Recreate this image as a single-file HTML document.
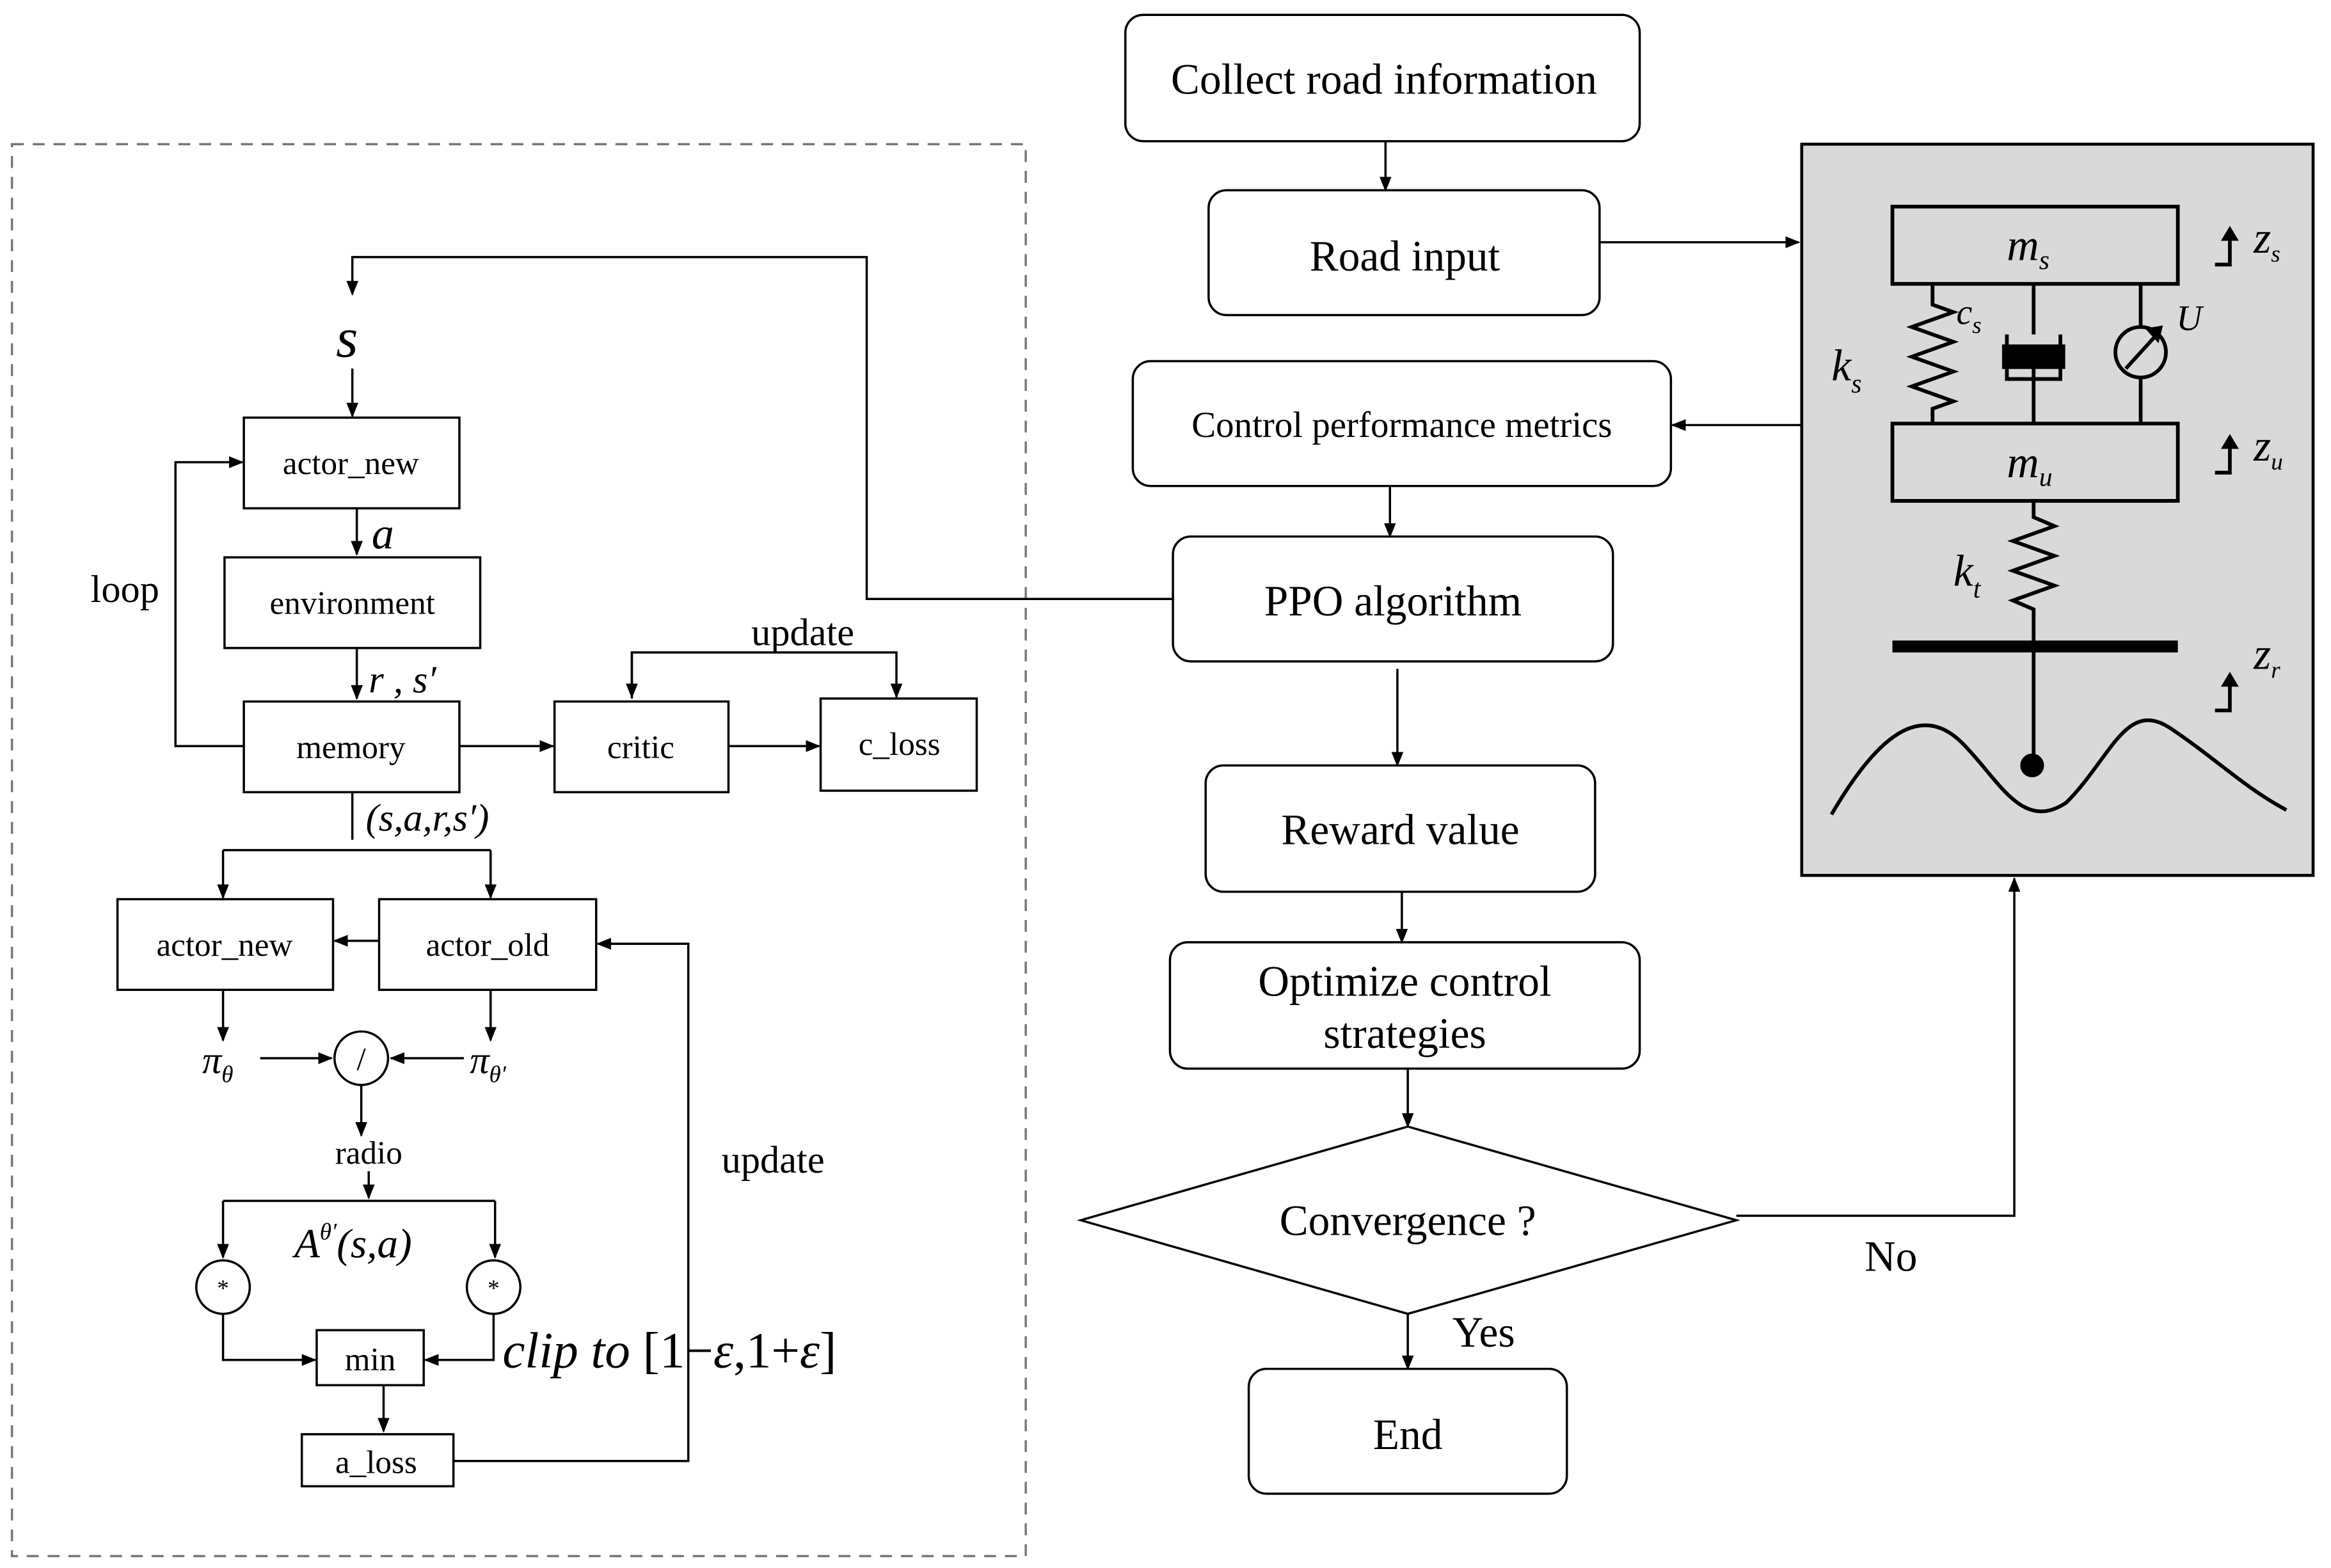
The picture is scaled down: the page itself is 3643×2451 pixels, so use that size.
<!DOCTYPE html>
<html><head><meta charset="utf-8"><style>
html,body{margin:0;padding:0;background:#fff}
svg{display:block}
text{font-family:"Liberation Serif",serif;fill:#000}
</style></head><body>
<svg width="3643" height="2451" viewBox="0 0 1568 1055" xmlns="http://www.w3.org/2000/svg">
<defs>
<marker id="ar" markerWidth="10" markerHeight="10" refX="9" refY="5" orient="auto" markerUnits="userSpaceOnUse">
<path d="M0,1 L10,5 L0,9 Z" fill="#000"/></marker>
</defs>
<rect x="0" y="0" width="1568" height="1055" fill="#fff"/>
<g fill="none" stroke="#000" stroke-width="1.5">
<rect x="8" y="97" width="682" height="950" stroke="#777" stroke-dasharray="8,6"/>
<rect x="757" y="10" width="346" height="85" rx="12"/>
<rect x="813" y="128" width="263" height="84" rx="12"/>
<rect x="762" y="243" width="362" height="84" rx="12"/>
<rect x="789" y="361" width="296" height="84" rx="12"/>
<rect x="811" y="515" width="262" height="85" rx="12"/>
<rect x="787" y="634" width="316" height="85" rx="12"/>
<path d="M727,821 L947,758 L1168,821 L947,884 Z"/>
<rect x="840" y="921" width="214" height="84" rx="12"/>
<path d="M932,95 V128" marker-end="url(#ar)"/>
<path d="M935,327 V361" marker-end="url(#ar)"/>
<path d="M940,450 V515" marker-end="url(#ar)"/>
<path d="M943,600 V634" marker-end="url(#ar)"/>
<path d="M947,719 V758" marker-end="url(#ar)"/>
<path d="M947,884 V921" marker-end="url(#ar)"/>
<path d="M1076,163 H1210" marker-end="url(#ar)"/>
<path d="M1212,286 H1125" marker-end="url(#ar)"/>
<path d="M1168,818 H1355 V591" marker-end="url(#ar)"/>
<path d="M789,403 H583 V173 H237 V198" marker-end="url(#ar)"/>
<path d="M237,248 V280" marker-end="url(#ar)"/>
<rect x="164" y="281" width="145" height="61"/>
<path d="M240,342 V373" marker-end="url(#ar)"/>
<rect x="151" y="375" width="172" height="61"/>
<path d="M240,436 V470" marker-end="url(#ar)"/>
<rect x="164" y="472" width="145" height="61"/>
<path d="M164,502 H118 V311 H163" marker-end="url(#ar)"/>
<path d="M309,502 H372" marker-end="url(#ar)"/>
<rect x="373" y="472" width="117" height="61"/>
<path d="M490,502 H551" marker-end="url(#ar)"/>
<rect x="552" y="470" width="105" height="62"/>
<path d="M425,470 V439 H603 V469" marker-end="url(#ar)"/>
<path d="M425,439 V469" marker-end="url(#ar)"/>
<path d="M237,533 V565"/>
<path d="M150,572 H330"/>
<path d="M150,572 V604" marker-end="url(#ar)"/>
<path d="M330,572 V604" marker-end="url(#ar)"/>
<rect x="79" y="605" width="145" height="61"/>
<rect x="255" y="605" width="146" height="61"/>
<path d="M255,633 H225" marker-end="url(#ar)"/>
<path d="M150,666 V700" marker-end="url(#ar)"/>
<path d="M330,666 V700" marker-end="url(#ar)"/>
<path d="M175,712 H223" marker-end="url(#ar)"/>
<path d="M312,712 H263" marker-end="url(#ar)"/>
<circle cx="243" cy="712" r="18"/>
<path d="M243,730 V764" marker-end="url(#ar)"/>
<path d="M248,788 V806" marker-end="url(#ar)"/>
<path d="M150,808 H333"/>
<path d="M150,808 V846" marker-end="url(#ar)"/>
<path d="M333,808 V846" marker-end="url(#ar)"/>
<circle cx="150" cy="866" r="18"/>
<circle cx="332" cy="866" r="18"/>
<rect x="213" y="895" width="72" height="37"/>
<path d="M150,884 V915 H212" marker-end="url(#ar)"/>
<path d="M332,884 V915 H286" marker-end="url(#ar)"/>
<path d="M258,932 V963" marker-end="url(#ar)"/>
<rect x="203" y="965" width="102" height="35"/>
<path d="M305,983 H463 V635 H402" marker-end="url(#ar)"/>
</g>
<rect x="1212" y="97" width="344" height="492" fill="#d9d9d9" stroke="#000" stroke-width="2"/>
<g stroke="#000" stroke-width="2.5" fill="none">
<rect x="1273" y="139" width="192" height="52" fill="#d9d9d9"/>
<rect x="1273" y="285" width="192" height="52" fill="#d9d9d9"/>
<path d="M1300,191 V205 L1314,210 L1286,220 L1314,230 L1286,240 L1314,250 L1286,260 L1314,270 L1300,275 V285"/>
<path d="M1368,191 V225 M1350,225 V255 H1386 V225 M1368,245 V285"/>
<rect x="1348" y="233" width="40" height="14" fill="#000"/>
<path d="M1440,191 V220 M1440,254 V285"/>
<circle cx="1440" cy="237" r="17"/>
<path d="M1430,248 L1450,226"/>
<path d="M1368,337 V348 L1382,354 L1354,364 L1382,374 L1354,384 L1382,394 L1354,404 L1368,410 V435"/>
<path d="M1273,435 H1465" stroke-width="8"/>
<path d="M1368,435 V515"/>
<path d="M1232,548 C1260,500 1290,470 1320,500 C1345,525 1360,560 1390,540 C1420,510 1430,470 1460,490 C1490,510 1510,530 1538,545"/>
<path d="M1490,178 H1500 V160 M1490,318 H1500 V300 M1490,478 H1500 V460"/>
</g>
<g fill="#000">
<path d="M1443,221 L1455,219 L1452,231 Z"/>
<path d="M1494,162 L1500,152 L1506,162 Z"/>
<path d="M1494,302 L1500,292 L1506,302 Z"/>
<path d="M1494,462 L1500,452 L1506,462 Z"/>
</g>
<circle cx="1367" cy="515" r="8" fill="#000"/>
<g font-size="29" text-anchor="middle">
<text x="931" y="63">Collect road information</text>
<text x="945" y="182">Road input</text>
<text x="943" y="294" font-size="24.5">Control performance metrics</text>
<text x="937" y="414">PPO algorithm</text>
<text x="942" y="568">Reward value</text>
<text x="945" y="670">Optimize control</text>
<text x="945" y="705">strategies</text>
<text x="947" y="831">Convergence ?</text>
<text x="947" y="975">End</text>
<text x="1272" y="855">No</text>
<text x="998" y="906">Yes</text>
</g>
<g font-size="30" font-style="italic">
<text x="1350" y="175">m<tspan font-size="18" dy="6">s</tspan></text>
<text x="1350" y="321">m<tspan font-size="18" dy="6">u</tspan></text>
<text x="1232" y="256">k<tspan font-size="18" dy="8">s</tspan></text>
<text x="1316" y="218" font-size="24">c<tspan font-size="16" dy="6">s</tspan></text>
<text x="1464" y="222" font-size="24">U</text>
<text x="1314" y="394">k<tspan font-size="18" dy="8">t</tspan></text>
<text x="1516" y="170">z<tspan font-size="16" dy="6">s</tspan></text>
<text x="1516" y="310">z<tspan font-size="16" dy="6">u</tspan></text>
<text x="1516" y="450">z<tspan font-size="16" dy="6">r</tspan></text>
</g>
<g font-size="22" text-anchor="middle">
<text x="236" y="319">actor_new</text>
<text x="237" y="413">environment</text>
<text x="236" y="510">memory</text>
<text x="431" y="510">critic</text>
<text x="605" y="508">c_loss</text>
<text x="151" y="643">actor_new</text>
<text x="328" y="643">actor_old</text>
<text x="249" y="922">min</text>
<text x="253" y="991">a_loss</text>
<text x="248" y="783">radio</text>
<text x="243" y="720">/</text>
<text x="150" y="872" font-size="16">*</text>
<text x="332" y="872" font-size="16">*</text>
<text x="84" y="405" font-size="26">loop</text>
<text x="540" y="434" font-size="26">update</text>
<text x="520" y="789" font-size="26">update</text>
</g>
<g font-size="30" font-style="italic">
<text x="226" y="240" font-size="38">s</text>
<text x="250" y="369">a</text>
<text x="248" y="466" font-size="26">r , s′</text>
<text x="246" y="559" font-size="26">(s,a,r,s′)</text>
<text x="136" y="722" font-size="26">π<tspan font-size="16" dy="6">θ</tspan></text>
<text x="316" y="722" font-size="26">π<tspan font-size="16" dy="6">θ′</tspan></text>
<text x="198" y="846" font-size="28">A<tspan font-size="16" dy="-12">θ′</tspan><tspan dy="12">(s,a)</tspan></text>
<text x="338" y="920" font-size="34">clip to <tspan font-style="normal">[1−</tspan>ε<tspan font-style="normal">,1+</tspan>ε<tspan font-style="normal">]</tspan></text>
</g>
</svg>
</body></html>
